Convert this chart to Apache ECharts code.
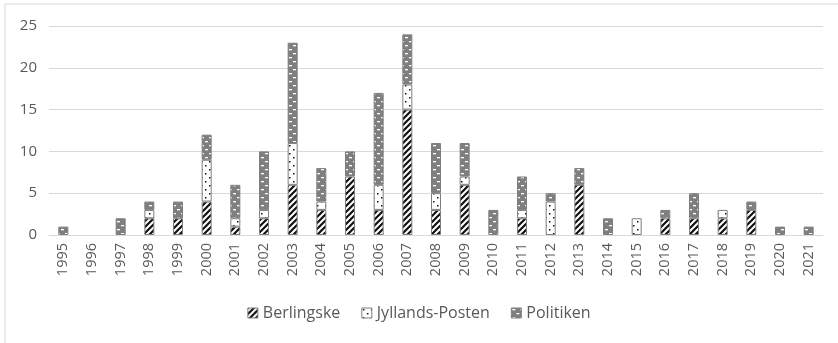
<!DOCTYPE html>
<html>
<head>
<meta charset="utf-8">
<script src="https://cdn.jsdelivr.net/npm/echarts@6/dist/echarts.min.js"></script>
<style>
  html, body { margin: 0; padding: 0; background: #fff; }
  #chart { width: 838px; height: 343px; }
</style>
</head>
<body>
<div id="chart"></div>
<script>
const years = ['1995','1996','1997','1998','1999','2000','2001','2002','2003','2004','2005','2006','2007','2008',
  '2009','2010','2011','2012','2013','2014','2015','2016','2017','2018','2019','2020','2021'];
const berlingske = [0,0,0,2,2,4,1,2,6,3,7,3,15,3,6,0,2,0,6,0,0,2,2,2,3,0,0];
const jyllandsPosten = [0,0,0,1,0,5,1,1,5,1,0,3,3,2,1,0,1,4,0,0,2,0,0,1,0,0,0];
const politiken = [1,0,2,1,2,3,4,7,12,4,3,11,6,6,4,3,4,1,2,2,0,1,3,0,1,1,1];
const yTicks = [0, 5, 10, 15, 20, 25];

// pattern fills, like the excel ones
function makePattern(draw, w, h) {
  const c = document.createElement('canvas');
  c.width = w; c.height = h;
  draw(c.getContext('2d'));
  return { image: c, repeat: 'repeat' };
}

const stripes = makePattern(ctx => {
  ctx.fillStyle = '#fff';
  ctx.fillRect(0, 0, 6, 6);
  ctx.strokeStyle = '#111';
  ctx.lineWidth = 2.2;
  ctx.beginPath();
  ctx.moveTo(-1, 7); ctx.lineTo(7, -1);
  ctx.moveTo(-4, 4); ctx.lineTo(4, -4);
  ctx.moveTo(2, 10); ctx.lineTo(10, 2);
  ctx.stroke();
}, 6, 6);

const dots = makePattern(ctx => {
  ctx.fillStyle = '#fff';
  ctx.fillRect(0, 0, 8, 8);
  ctx.fillStyle = '#111';
  ctx.fillRect(1, 1, 1.5, 1.5);
  ctx.fillRect(5, 5, 1.5, 1.5);
}, 8, 8);

const dashes = makePattern(ctx => {
  ctx.fillStyle = '#7f7f7f';
  ctx.fillRect(0, 0, 8, 8);
  ctx.fillStyle = '#fff';
  ctx.fillRect(1, 1, 3, 1.3);
  ctx.fillRect(5, 5, 3, 1.3);
}, 8, 8);

const font = 'Open Sans';
const chart = echarts.init(document.getElementById('chart'));

function barSeries(name, data, fill) {
  return {
    name: name,
    type: 'bar',
    stack: 'total',
    barWidth: 10,
    // empty segments are not drawn at all (no stray border line)
    data: data.map(v => v === 0 ? '-' : v),
    itemStyle: { color: fill, borderColor: '#7f7f7f', borderWidth: 1 },
    emphasis: { disabled: true }
  };
}

chart.setOption({
  animation: false,
  textStyle: { fontFamily: font },
  graphic: [{
    type: 'rect',
    shape: { x: 5, y: 4, width: 840, height: 345 },
    style: { fill: 'none', stroke: '#d9d9d9', lineWidth: 1 }
  }],
  grid: { left: 49, right: 15, top: 26, bottom: 108 },
  xAxis: {
    type: 'category',
    data: years,
    axisLine: { lineStyle: { color: '#d9d9d9' } },
    axisTick: { show: false },
    axisLabel: { rotate: 90, color: '#595959', fontSize: 14.5, margin: 8 }
  },
  yAxis: {
    type: 'value',
    min: yTicks[0],
    max: yTicks[yTicks.length - 1],
    interval: 5,
    axisLine: { show: false },
    axisTick: { show: false },
    splitLine: { lineStyle: { color: '#d9d9d9', width: 1 } },
    axisLabel: { color: '#595959', fontSize: 15, margin: 12 }
  },
  legend: {
    bottom: 17,
    left: 'center',
    icon: 'rect',
    itemWidth: 10,
    itemHeight: 10,
    itemGap: 21,
    itemStyle: { borderColor: '#7f7f7f', borderWidth: 1 },
    textStyle: { color: '#595959', fontSize: 16, fontFamily: font }
  },
  series: [
    barSeries('Berlingske', berlingske, stripes),
    barSeries('Jyllands-Posten', jyllandsPosten, dots),
    barSeries('Politiken', politiken, dashes)
  ]
});
</script>
</body>
</html>
